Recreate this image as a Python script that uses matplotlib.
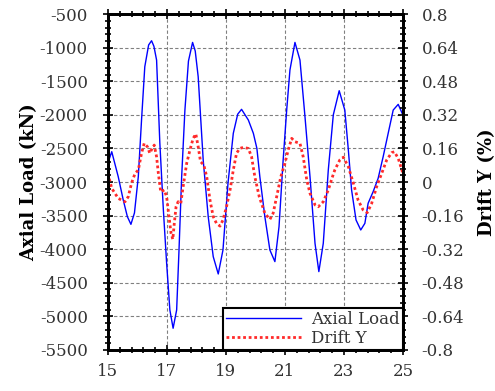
import matplotlib
matplotlib.use("Agg")
import matplotlib.pyplot as plt
from matplotlib.ticker import MultipleLocator, AutoMinorLocator

# values
load_t = [15.0, 15.13, 15.35, 15.52, 15.66, 15.78, 15.9, 16.03, 16.14, 16.25, 16.38, 16.48,
          16.56, 16.65, 16.76, 16.88, 16.99, 17.1, 17.21, 17.33, 17.41, 17.5, 17.61, 17.73,
          17.87, 17.96, 18.06, 18.23, 18.4, 18.57, 18.74, 18.9, 19.07, 19.25, 19.4, 19.53,
          19.76, 19.93, 20.05, 20.15, 20.32, 20.49, 20.66, 20.8, 20.94, 21.06, 21.17, 21.34,
          21.51, 21.68, 21.85, 22.02, 22.15, 22.3, 22.47, 22.64, 22.84, 23.03, 23.15, 23.26,
          23.41, 23.57, 23.71, 23.82, 23.99, 24.16, 24.33, 24.5, 24.67, 24.84, 25.0]
load_kn = [-2717, -2549, -2921, -3268, -3516, -3630, -3460, -2921, -2077, -1284, -960, -897,
           -980, -1185, -2420, -3417, -4206, -4905, -5177, -4905, -4012, -2921, -1929, -1200,
           -922, -1050, -1433, -2673, -3516, -4111, -4369, -4012, -3020, -2275, -1990, -1918,
           -2077, -2275, -2500, -2921, -3516, -4012, -4185, -3665, -2673, -1929, -1333, -922,
           -1185, -2028, -2921, -3913, -4334, -3913, -2822, -2000, -1641, -1929, -2524, -3119,
           -3565, -3714, -3615, -3317, -3144, -2945, -2623, -2275, -1929, -1844, -2003]

drift_t = [15.0, 15.13, 15.35, 15.58, 15.69, 15.8, 15.92, 16.03, 16.14, 16.23, 16.34, 16.42,
           16.5, 16.57, 16.65, 16.71, 16.79, 16.91, 16.99, 17.07, 17.14, 17.2, 17.25, 17.31,
           17.38, 17.47, 17.55, 17.67, 17.78, 17.89, 17.98, 18.06, 18.14, 18.25, 18.35, 18.46,
           18.57, 18.68, 18.8, 18.9, 19.02, 19.14, 19.25, 19.36, 19.47, 19.59, 19.76, 19.87,
           19.98, 20.13, 20.32, 20.49, 20.6, 20.72, 20.86, 21.0, 21.11, 21.23, 21.34, 21.51,
           21.62, 21.74, 21.85, 22.02, 22.13, 22.3, 22.47, 22.6, 22.69, 22.86, 22.98, 23.15,
           23.32, 23.48, 23.65, 23.79, 23.94, 24.11, 24.28, 24.45, 24.62, 24.71, 24.84, 25.0]
drift_pct = [0.041, -0.030, -0.078, -0.094, -0.070, -0.006, 0.041, 0.057, 0.137, 0.184, 0.168, 0.137,
             0.160, 0.176, 0.120, 0.041, -0.047, -0.038, -0.070, -0.165, -0.244, -0.273, -0.197, -0.118,
             -0.094, -0.102, -0.022, 0.089, 0.152, 0.208, 0.229, 0.168, 0.097, 0.081, 0.025, -0.086,
             -0.165, -0.197, -0.210, -0.181, -0.118, -0.038, 0.057, 0.137, 0.160, 0.165, 0.160, 0.120,
             0.025, -0.070, -0.149, -0.178, -0.149, -0.070, 0.025, 0.089, 0.152, 0.208, 0.192, 0.184,
             0.120, 0.010, -0.054, -0.109, -0.118, -0.094, -0.038, 0.020, 0.057, 0.105, 0.118, 0.073,
             -0.006, -0.086, -0.133, -0.146, -0.102, -0.022, 0.041, 0.105, 0.140, 0.144, 0.113, 0.041]

x_ticks = [15, 17, 19, 21, 23, 25]
drift_ticks = [-0.8, -0.64, -0.48, -0.32, -0.16, 0, 0.16, 0.32, 0.48, 0.64, 0.8]
drift_labels = ["-0.8", "-0.64", "-0.48", "-0.32", "-0.16", "0", "0.16", "0.32", "0.48", "0.64", "0.8"]

plt.rcParams.update({
    "font.family": "DejaVu Serif",
    "font.size": 12,
    "axes.unicode_minus": False,
})
text_grey = "#333333"

fig = plt.figure(figsize=(4.95, 3.91), dpi=100)
ax = fig.add_axes([0.218, 0.105, 0.596, 0.859])
ax2 = ax.twinx()

l1, = ax.plot(load_t, load_kn, color="#0000ff", lw=1.0, label="Axial Load")
l2, = ax2.plot(drift_t, drift_pct, color="#ff2a2a", lw=2.0, ls=(0, (1, 1)), label="Drift Y")

ax.set_xlim(15, 25)
ax.set_ylim(-5500, -500)
ax2.set_ylim(-0.8, 0.8)
ax.set_xticks(x_ticks)
ax.xaxis.set_minor_locator(MultipleLocator(0.4, offset=15))
ax.yaxis.set_major_locator(MultipleLocator(500))
ax.yaxis.set_minor_locator(MultipleLocator(100))
ax2.set_yticks(drift_ticks)
ax2.set_yticklabels(drift_labels)
ax2.yaxis.set_minor_locator(AutoMinorLocator(5))

ax.grid(True, which="major", color="#808080", ls=(0, (3, 2)), lw=0.8)
ax.tick_params(which="both", direction="inout", top=True, width=1.2, color="black",
               labelcolor=text_grey)
ax.tick_params(which="major", length=7)
ax.tick_params(which="minor", length=5)
ax.tick_params(axis="x", pad=6)
ax.tick_params(axis="y", pad=11)
ax2.tick_params(which="both", direction="inout", width=1.2, pad=10, labelcolor=text_grey)
ax2.tick_params(which="major", length=7)
ax2.tick_params(which="minor", length=5)
for a in (ax, ax2):
    for s in a.spines.values():
        s.set_linewidth(2)

ax.set_ylabel("Axial Load (kN)", fontsize=13, fontweight="bold", labelpad=1)
ax2.set_ylabel("Drift Y (%)", fontsize=13, fontweight="bold", labelpad=10)

leg = ax2.legend(handles=[l1, l2], loc="lower right", borderaxespad=0, fancybox=False,
                 framealpha=1, edgecolor="black", handlelength=4.5, handletextpad=0.6,
                 borderpad=0.2, labelspacing=0.1, fontsize=12, labelcolor=text_grey)
leg.get_frame().set_linewidth(1.5)

fig.savefig("out.png", dpi=100)
